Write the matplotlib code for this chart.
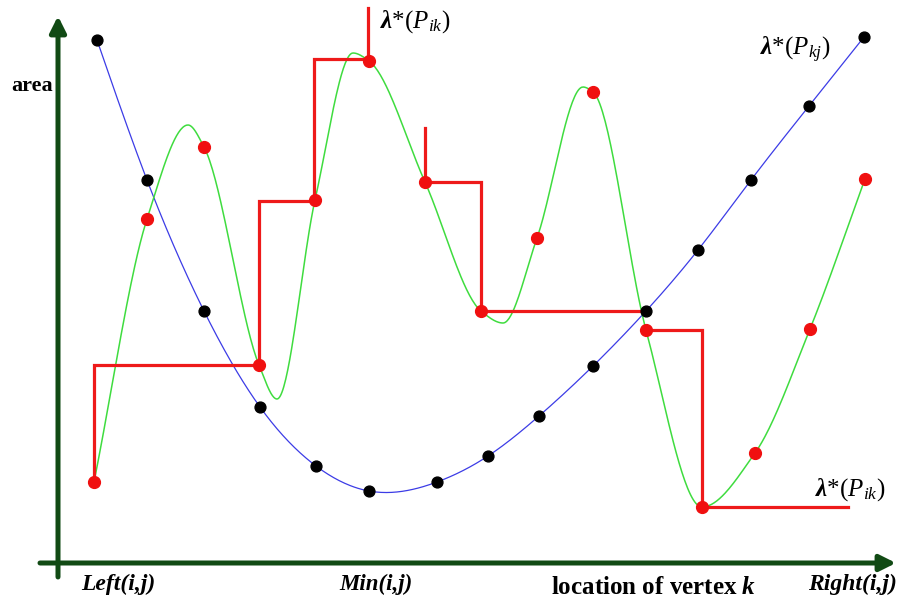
import numpy as np
import matplotlib.pyplot as plt

plt.rcParams['font.family'] = ['Liberation Serif', 'DejaVu Serif']
plt.rcParams['mathtext.fontset'] = 'custom'
plt.rcParams['mathtext.rm'] = 'Liberation Serif'
plt.rcParams['mathtext.it'] = 'Liberation Serif:italic'
plt.rcParams['mathtext.bf'] = 'Liberation Serif:bold'
plt.rcParams['mathtext.bfit'] = 'Liberation Serif:italic:bold'

# location of vertex k (horizontal) and area (vertical, measured downward from the top)
black_x = [97, 147, 204, 260, 316, 369, 437, 488, 539, 593, 646, 698, 751, 809, 864]
black_y = [40, 180, 311, 407, 466, 491, 482, 456, 416, 366, 311, 250, 180, 106, 37]

red_x = [94, 147, 204, 259, 315, 369, 425, 481, 537, 593, 646, 702, 755, 810, 865]
red_y = [482, 219, 147, 365, 200, 61, 182, 311, 238, 92, 330, 507, 453, 329, 179]

# knots of the green curve: the red points plus its peaks and troughs
green_x = [94, 147, 188, 204, 259, 277, 315, 353, 369, 425, 481, 503, 537, 583, 593, 646, 702, 755, 810, 865]
green_y = [482, 219, 125, 147, 365, 399, 200, 53, 61, 182, 311, 323, 238, 87, 92, 330, 507, 453, 329, 179]

# step functions lambda*(P_ik)
step1_x = [94, 94, 259, 259, 314, 314, 368, 368]
step1_y = [482, 365, 365, 201, 201, 59, 59, 8]
step2_x = [425, 425, 481, 481, 641]
step2_y = [128, 182, 182, 311, 311]
step3_x = [646, 702, 702, 848]
step3_y = [330, 330, 507, 507]


def natural_spline(xk, yk, n=40):
    xk = np.asarray(xk, float)
    yk = np.asarray(yk, float)
    k = len(xk)
    h = np.diff(xk)
    A = np.zeros((k, k))
    b = np.zeros(k)
    A[0, 0] = A[-1, -1] = 1
    for i in range(1, k - 1):
        A[i, i - 1] = h[i - 1]
        A[i, i] = 2 * (h[i - 1] + h[i])
        A[i, i + 1] = h[i]
        b[i] = 6 * ((yk[i + 1] - yk[i]) / h[i] - (yk[i] - yk[i - 1]) / h[i - 1])
    M = np.linalg.solve(A, b)
    xs, ys = [], []
    for i in range(k - 1):
        t = np.linspace(xk[i], xk[i + 1], n)
        a = xk[i + 1] - t
        c = t - xk[i]
        y = (M[i] * a**3 + M[i + 1] * c**3) / (6 * h[i]) \
            + (yk[i] / h[i] - M[i] * h[i] / 6) * a \
            + (yk[i + 1] / h[i] - M[i + 1] * h[i] / 6) * c
        xs.append(t)
        ys.append(y)
    return np.concatenate(xs), np.concatenate(ys)


def pchip(xk, yk, n=40):
    xk = np.asarray(xk, float)
    yk = np.asarray(yk, float)
    h = np.diff(xk)
    d = np.diff(yk) / h
    m = np.zeros(len(xk))
    m[0], m[-1] = d[0], d[-1]
    for i in range(1, len(xk) - 1):
        if d[i - 1] * d[i] > 0:
            w1 = 2 * h[i] + h[i - 1]
            w2 = h[i] + 2 * h[i - 1]
            m[i] = (w1 + w2) / (w1 / d[i - 1] + w2 / d[i])
    xs, ys = [], []
    for i in range(len(xk) - 1):
        t = np.linspace(0, 1, n)
        h00 = 2 * t**3 - 3 * t**2 + 1
        h10 = t**3 - 2 * t**2 + t
        h01 = -2 * t**3 + 3 * t**2
        h11 = t**3 - t**2
        xs.append(xk[i] + t * h[i])
        ys.append(h00 * yk[i] + h10 * h[i] * m[i] + h01 * yk[i + 1] + h11 * h[i] * m[i + 1])
    return np.concatenate(xs), np.concatenate(ys)


fig = plt.figure(figsize=(8.97, 6.0), dpi=100)
ax = fig.add_axes([0, 0, 1, 1])
ax.set_xlim(0, 897)
ax.set_ylim(600, 0)
ax.axis('off')

axis_col = '#114a14'
ax.annotate('', xy=(58, 16), xytext=(58, 577),
            arrowprops=dict(arrowstyle='-|>', lw=3.6, color=axis_col, mutation_scale=24, shrinkA=0, shrinkB=0))
ax.annotate('', xy=(896, 563), xytext=(40, 563),
            arrowprops=dict(arrowstyle='-|>', lw=3.6, color=axis_col, mutation_scale=24, shrinkA=0, shrinkB=0))

bx, by = natural_spline(black_x, black_y)
ax.plot(bx, by, color='#3c3ce6', lw=0.9, zorder=2)
gx, gy = pchip(green_x, green_y)
ax.plot(gx, gy, color='#3fdc3f', lw=1.1, zorder=2)

for sx, sy in [(step1_x, step1_y), (step2_x, step2_y), (step3_x, step3_y)]:
    ax.plot(sx, sy, color='#ee1a1a', lw=2.3, zorder=3, solid_joinstyle='miter')

ax.plot(black_x, black_y, 'o', color='black', ms=7.8, zorder=4)
ax.plot(red_x, red_y, 'o', color='#f01010', ms=8.5, zorder=4)

ax.text(32, 86, 'area', fontsize=16, fontweight='bold', ha='center', va='center')
ax.text(118, 584, 'Left(i,j)', fontsize=17, fontweight='bold', style='italic', ha='center', va='center')
ax.text(376, 584, 'Min(i,j)', fontsize=16.5, fontweight='bold', style='italic', ha='center', va='center')
ax.text(654, 588, r'location of vertex $\mathbfit{k}$', fontsize=18, fontweight='bold', ha='center', va='center')
ax.text(808, 584, 'Right(i,j)', fontsize=17, fontweight='bold', style='italic', ha='left', va='center')

ax.text(380, 22, r'$\mathbfit{\lambda}$*$(P_{ik})$', fontsize=18, ha='left', va='center')
ax.text(760, 50, r'$\mathbfit{\lambda}$*$(P_{kj})$', fontsize=18, ha='left', va='center')
ax.text(815, 490, r'$\mathbfit{\lambda}$*$(P_{ik})$', fontsize=18, ha='left', va='center')

fig.savefig('out.png', dpi=100)
